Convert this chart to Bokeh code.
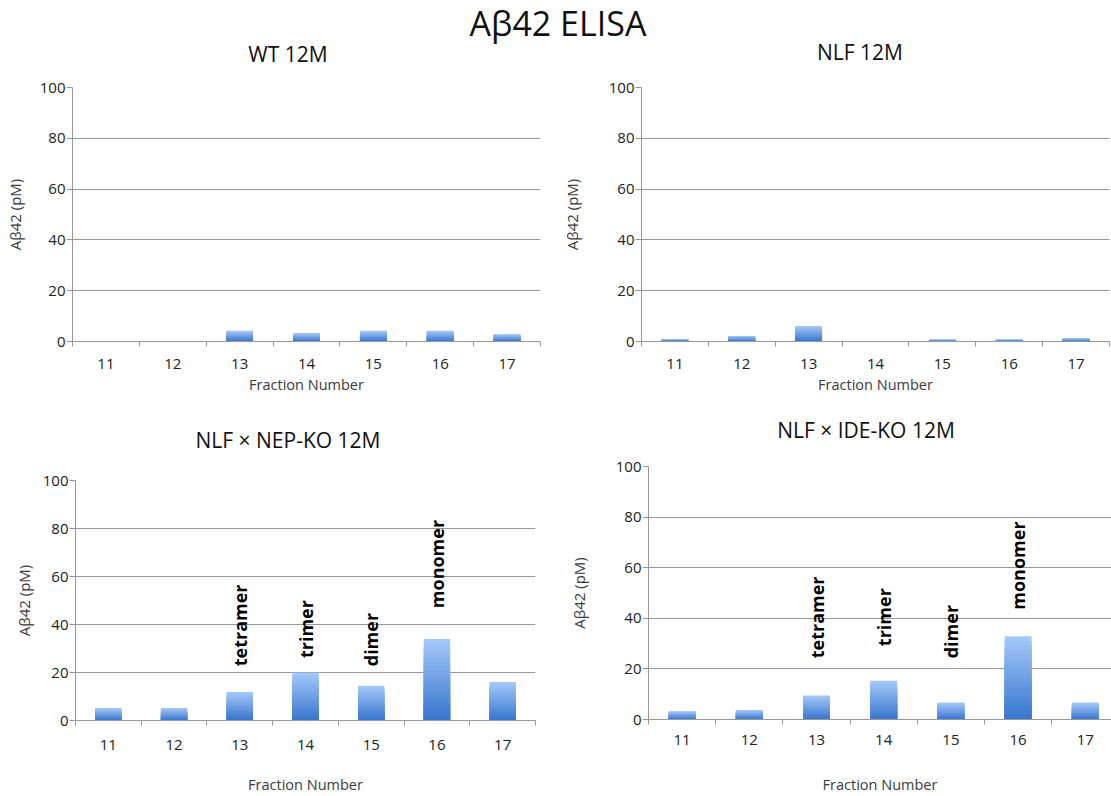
import math
from bokeh.plotting import figure
from bokeh.models import Range1d, FixedTicker, Div
from bokeh.layouts import column, row
from bokeh.embed import file_html
from bokeh.resources import INLINE
from bokeh.core.properties import value

# ---------------- data ----------------
fractions = [11, 12, 13, 14, 15, 16, 17]
wt_12m = [0.0, 0.0, 4.2, 3.3, 4.2, 4.2, 2.9]
nlf_12m = [0.9, 2.2, 6.1, 0.0, 0.8, 0.8, 1.3]
nlf_nepko_12m = [5.2, 5.2, 11.9, 20.0, 14.5, 34.0, 16.0]
nlf_ideko_12m = [3.3, 3.8, 9.5, 15.3, 6.7, 32.9, 6.7]
y_ticks = [0, 20, 40, 60, 80, 100]

species = ["tetramer", "trimer", "dimer", "monomer"]
species_fraction = [13, 14, 15, 16]
species_y_nep = [22.6, 26.0, 22.6, 46.8]
species_y_ide = [24.2, 29.0, 24.2, 43.4]

main_title = "Aβ42 ELISA"
panel_titles = ["WT 12M", "NLF 12M", "NLF × NEP-KO 12M", "NLF × IDE-KO 12M"]
x_label = "Fraction Number"
y_label = "Aβ42 (pM)"

# ---------------- style ----------------
FONT = "Open Sans"
GRID = "#979797"
TICK_TXT = "#222222"
AXIS_TXT = "#3a3a3a"
LIGHT = (163, 199, 249)
DARK = (58, 119, 206)
N_BANDS = 18


def band_color(t):
    r = round(LIGHT[0] + (DARK[0] - LIGHT[0]) * t)
    g = round(LIGHT[1] + (DARK[1] - LIGHT[1]) * t)
    b = round(LIGHT[2] + (DARK[2] - LIGHT[2]) * t)
    return "#%02x%02x%02x" % (r, g, b)


def text_div(text, width, height, inner_w, left, top, size, weight="normal"):
    html = ('<div style="font-family:\'Open Sans\';font-size:%dpx;line-height:normal;'
            'font-weight:%s;white-space:nowrap;text-align:center;color:#111111;'
            'width:%dpx;margin-left:%dpx;padding-top:%dpx">%s</div>'
            % (size, weight, inner_w, left, top, text))
    return Div(text=html, width=width, height=height, margin=0)


def make_panel(vals, width, height, borders, x_end, ylab_standoff,
               xtick_standoff, xlab_standoff, notes=None):
    left, right, top, bottom = borders
    p = figure(width=width, height=height,
               x_range=Range1d(fractions[0] - 0.5, x_end),
               y_range=Range1d(y_ticks[0], y_ticks[-1]),
               output_backend="svg", toolbar_location=None,
               min_border_left=left, min_border_right=right,
               min_border_top=top, min_border_bottom=bottom, margin=0)
    p.outline_line_color = None
    p.background_fill_color = "white"
    p.border_fill_color = "white"

    # gradient bars (light top -> dark bottom), nested so no seams
    for k in range(N_BANDS):
        frac = (N_BANDS - k) / N_BANDS
        t = k / (N_BANDS - 1)
        p.vbar(x=fractions, top=[v * frac for v in vals], bottom=0, width=0.4,
               fill_color=band_color(t), line_color=None)

    # x axis: labels at category centres, tick marks between categories
    xa = p.xaxis[0]
    xa.ticker = FixedTicker(ticks=fractions,
                            minor_ticks=[f - 0.5 for f in fractions] + [fractions[-1] + 0.5])
    xa.axis_line_color = GRID
    xa.major_tick_line_color = None
    xa.major_tick_out = 5
    xa.major_tick_in = 0
    xa.minor_tick_line_color = GRID
    xa.minor_tick_out = 5
    xa.minor_tick_in = 0
    xa.major_label_standoff = xtick_standoff
    xa.major_label_text_font = FONT
    xa.major_label_text_font_size = "15px"
    xa.major_label_text_color = TICK_TXT
    xa.axis_label = x_label
    xa.axis_label_standoff = xlab_standoff
    xa.axis_label_text_font = FONT
    xa.axis_label_text_font_size = "14.5px"
    xa.axis_label_text_font_style = "normal"
    xa.axis_label_text_color = AXIS_TXT

    # y axis
    ya = p.yaxis[0]
    ya.ticker = FixedTicker(ticks=y_ticks)
    ya.axis_line_color = GRID
    ya.major_tick_line_color = GRID
    ya.major_tick_out = 6
    ya.major_tick_in = 0
    ya.minor_tick_line_color = None
    ya.major_label_standoff = 1
    ya.major_label_text_font = FONT
    ya.major_label_text_font_size = "15px"
    ya.major_label_text_color = TICK_TXT
    ya.axis_label = y_label
    ya.axis_label_standoff = ylab_standoff
    ya.axis_label_text_font = FONT
    ya.axis_label_text_font_size = "15px"
    ya.axis_label_text_font_style = "normal"
    ya.axis_label_text_color = AXIS_TXT

    p.xgrid.visible = False
    p.ygrid.ticker = FixedTicker(ticks=y_ticks)
    p.ygrid.grid_line_color = GRID
    p.ygrid.grid_line_width = 1

    if notes is not None:
        xs, ys = notes
        p.text(x=xs, y=ys, text=species, angle=math.pi / 2,
               text_align="left", text_baseline="middle",
               text_font=value(FONT), text_font_style="bold",
               text_font_size="18px", text_color="black")
    return p


# header band: panel title | main title | panel title
head = row(
    text_div(panel_titles[0], 400, 75, 200, 188, 40, 21),
    text_div(main_title, 320, 75, 300, 8, 0, 34),
    text_div(panel_titles[1], 391, 75, 200, 40, 38, 21),
    margin=0)

p1 = make_panel(wt_12m, 556, 330, (72, 16, 12, 64), 17.5, 12, 12, 3)
p2 = make_panel(nlf_12m, 555, 330, (85, 2, 12, 64), 17.5, 24, 12, 3)

mid = row(
    text_div(panel_titles[2], 556, 50, 300, 138, 21, 21),
    text_div(panel_titles[3], 555, 50, 300, 160, 11, 21),
    margin=0)

p3 = make_panel(nlf_nepko_12m, 556, 341, (75, 21, 25, 74), 17.5, 6, 14, 22,
                notes=(species_fraction, species_y_nep))
p4 = make_panel(nlf_ideko_12m, 555, 341, (92, 0, 11, 76), 10.5 + 463 / 67.2, 24, 10, 27,
                notes=(species_fraction, species_y_ide))

layout = column(
    head,
    row(column(p1, margin=0), column(p2, margin=0), margin=0),
    mid,
    row(column(p3, margin=0), column(p4, margin=0), margin=0),
    margin=0)

with open("out.html", "w") as f:
    f.write(file_html(layout, INLINE, title="Abeta42 ELISA"))
